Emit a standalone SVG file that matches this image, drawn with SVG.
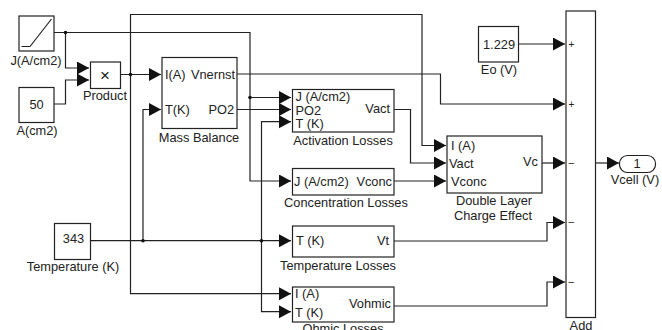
<svg xmlns="http://www.w3.org/2000/svg" width="662" height="330" viewBox="0 0 662 330">
<style>
text{font-family:"Liberation Sans",Arial,sans-serif;font-size:12.8px;fill:#222}
.m{text-anchor:middle}
.e{text-anchor:end}
.b{fill:#fff;stroke:#222;stroke-width:1.2}
.w{fill:none;stroke:#222;stroke-width:1.2}
</style>
<defs>
<marker id="a" markerUnits="userSpaceOnUse" markerWidth="13" markerHeight="14" refX="12" refY="6.5" orient="auto"><path d="M0 0L12 6.5L0 13z" fill="#111"/></marker>
</defs>
<rect width="662" height="330" fill="#fff"/>
<g id="connectors">
<path class="w" d="M54 32.5H250V181H291" marker-end="url(#a)"/>
<path class="w" d="M65.5 32.5V68H89" marker-end="url(#a)"/>
<path class="w" d="M54 104H65.5V80H89" marker-end="url(#a)"/>
<path class="w" d="M120 74.5H161" marker-end="url(#a)"/>
<path class="w" d="M130.5 74.5V14.5H422V145.5H446" marker-end="url(#a)"/>
<path class="w" d="M130.5 74.5V293.7H291" marker-end="url(#a)"/>
<path class="w" d="M237 74H440.5V104H565" marker-end="url(#a)"/>
<path class="w" d="M237 109.5H291" marker-end="url(#a)"/>
<path class="w" d="M250 97.5H291" marker-end="url(#a)"/>
<path class="w" d="M91 240.7H291" marker-end="url(#a)"/>
<path class="w" d="M143 240.7V109.5H161" marker-end="url(#a)"/>
<path class="w" d="M261.5 240.7V121.7H291" marker-end="url(#a)"/>
<path class="w" d="M261.5 240.7V311.7H291" marker-end="url(#a)"/>
<path class="w" d="M394 109.5H410.5V163H446" marker-end="url(#a)"/>
<path class="w" d="M394 181H446" marker-end="url(#a)"/>
<path class="w" d="M394 241H547V222.5H565" marker-end="url(#a)"/>
<path class="w" d="M394 306H547V282H565" marker-end="url(#a)"/>
<path class="w" d="M519 44H565" marker-end="url(#a)"/>
<path class="w" d="M542 163H565" marker-end="url(#a)"/>
<path class="w" d="M596 163H619" marker-end="url(#a)"/>
<circle cx="65.5" cy="32.5" r="1.8" fill="#111"/>
<circle cx="130.5" cy="74.5" r="1.8" fill="#111"/>
<circle cx="250" cy="97.5" r="1.8" fill="#111"/>
<circle cx="143" cy="240.7" r="1.8" fill="#111"/>
<circle cx="261.5" cy="240.7" r="1.8" fill="#111"/>
</g>
<g id="ramp"><rect class="b" x="19" y="16" width="35" height="35"/><path class="w" d="M21.5 46.5H30L51.5 19"/><text class="m" x="36" y="65">J(A/cm2)</text></g>
<g id="area"><rect class="b" x="19" y="87.5" width="35" height="35"/><text class="m" x="36.5" y="109">50</text><text class="m" x="37" y="135">A(cm2)</text></g>
<g id="product"><rect class="b" x="90.5" y="62" width="30" height="26.5"/><text class="m" x="105" y="81" style="font-size:17px">×</text><text class="m" x="105" y="100">Product</text></g>
<g id="mass-balance"><rect class="b" x="162" y="57.5" width="75" height="71"/><text x="165" y="79">I(A)</text><text class="e" x="235" y="79">Vnernst</text><text x="165" y="114">T(K)</text><text class="e" x="234" y="114">PO2</text><text class="m" x="199" y="142">Mass Balance</text></g>
<g id="activation"><rect class="b" x="292.5" y="89.5" width="101.5" height="42.5"/><text x="295.5" y="101">J (A/cm2)</text><text x="295.5" y="114.5">PO2</text><text x="295.5" y="128">T (K)</text><text class="e" x="390" y="113">Vact</text><text class="m" x="343" y="145">Activation Losses</text></g>
<g id="concentration"><rect class="b" x="292.5" y="168.5" width="101.5" height="26.5"/><text x="294" y="186">J (A/cm2)</text><text class="e" x="392" y="186">Vconc</text><text class="m" x="346" y="207">Concentration Losses</text></g>
<g id="temperature-losses"><rect class="b" x="292.5" y="226" width="101.5" height="31"/><text x="296" y="245">T (K)</text><text class="e" x="389" y="245">Vt</text><text class="m" x="338" y="270">Temperature Losses</text></g>
<g id="ohmic"><rect class="b" x="292.5" y="287" width="101.5" height="35"/><text x="295" y="298">I (A)</text><text x="295" y="317">T (K)</text><text class="e" x="391" y="308">Vohmic</text><text class="m" x="343" y="333">Ohmic Losses</text></g>
<g id="temperature"><rect class="b" x="54.5" y="223.5" width="36" height="36"/><text class="m" x="73.5" y="243">343</text><text class="m" x="73" y="271">Temperature (K)</text></g>
<g id="double-layer"><rect class="b" x="447" y="136" width="95" height="57"/><text x="451" y="150">I (A)</text><text x="449" y="168">Vact</text><text x="451" y="186">Vconc</text><text class="e" x="538" y="166">Vc</text><text class="m" x="494" y="205">Double Layer</text><text class="m" x="493" y="220">Charge Effect</text></g>
<g id="eo"><rect class="b" x="478.5" y="26.5" width="40" height="35.5"/><text class="m" x="499" y="49">1.229</text><text class="m" x="499" y="74">Eo (V)</text></g>
<g id="add"><rect class="b" x="566" y="11" width="29.5" height="306.5"/><text x="568.5" y="48" style="font-size:10px">+</text><text x="568.5" y="108" style="font-size:10px">+</text><text x="568.5" y="166" style="font-size:10px">–</text><text x="568.5" y="225" style="font-size:10px">–</text><text x="568.5" y="285" style="font-size:10px">–</text><text class="m" x="581" y="330">Add</text></g>
<g id="vcell"><rect class="b" x="619.5" y="155.5" width="36" height="17" rx="8" ry="8"/><text class="m" x="637" y="168">1</text><text class="m" x="635" y="184">Vcell (V)</text></g>
</svg>
